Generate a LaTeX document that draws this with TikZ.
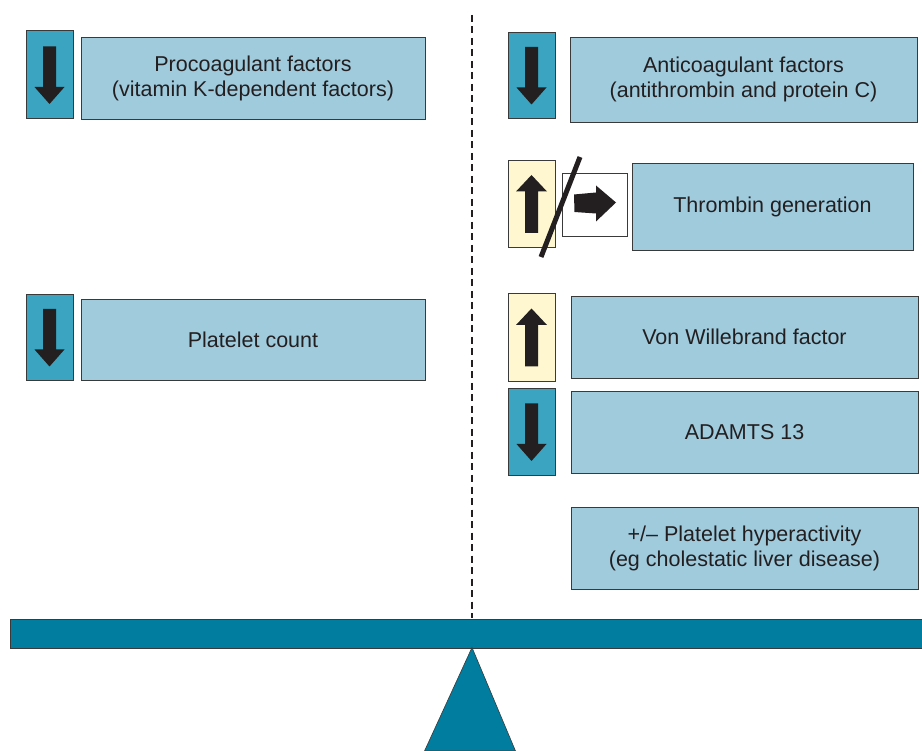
\documentclass[tikz,border=0pt]{standalone}
\usepackage{fontspec}
\setmainfont{Liberation Sans}
\definecolor{tealc}{HTML}{3BA4C1}
\definecolor{lightc}{HTML}{9FCBDD}
\definecolor{yellc}{HTML}{FEF7CF}
\definecolor{barc}{HTML}{007D9F}
\definecolor{txtc}{HTML}{231F20}
\definecolor{bordc}{HTML}{3A3A3A}
\tikzset{
  arrbox/.style={draw=bordc, line width=0.9pt, fill=tealc, minimum width=47pt, minimum height=87pt, inner sep=0pt},
  uparrbox/.style={arrbox, fill=yellc},
  infobox/.style={draw=bordc, line width=0.9pt, fill=lightc, text=txtc, align=center, inner sep=0pt,
    font=\fontsize{21.5}{25}\selectfont},
  arrowshape/.style={fill=txtc, draw=none},
}
\newcommand\DownArr[1]{\fill[txtc,shift={(#1.center)}] (-6.5,-28) -- (6.5,-28) -- (6.5,12.5) -- (15,12.5) -- (0,29.5) -- (-15,12.5) -- (-6.5,12.5) -- cycle;}
\newcommand\UpArr[1]{\fill[txtc,shift={(#1.center)}] (-6.5,29.5) -- (6.5,29.5) -- (6.5,-12) -- (15.5,-12) -- (0,-28.5) -- (-15.5,-12) -- (-6.5,-12) -- cycle;}
\begin{document}
\begin{tikzpicture}[x=1pt,y=-1pt]
\clip (0,0) rectangle (922,751);
\fill[white] (0,0) rectangle (922,751);

% dashed axis
\coordinate (axtop) at (472,15);
\coordinate (axbot) at (472,618);
\draw[txtc, line width=2pt, dash pattern=on 7pt off 4.5pt] (axtop) -- (axbot);

% left column
\node[arrbox, minimum height=88pt] (a1) at (49.5,74.5) {};
\DownArr{a1}
\node[infobox, minimum width=344pt, minimum height=82pt] (proco) at (253,78) {Procoagulant factors\\(vitamin K-dependent factors)};

\node[arrbox, minimum height=86pt] (a2) at (49.5,337) {};
\DownArr{a2}
\node[infobox, minimum width=344pt, minimum height=81pt] (plt) at (253,339.5) {Platelet count};

% right column
\node[arrbox, minimum height=86pt] (a3) at (531.5,75) {};
\DownArr{a3}
\node[infobox, minimum width=347pt, minimum height=85pt] (anti) at (743.5,79.5) {Anticoagulant factors\\(antithrombin and protein C)};

\node[uparrbox] (a4) at (531.5,203.5) {};
\UpArr{a4}
\node[draw=bordc, line width=0.9pt, fill=white, minimum width=65pt, minimum height=63pt, inner sep=0pt] (wbox) at (594.5,204.5) {};
\fill[txtc, shift={(wbox.center)}] (-20.5,-10) -- (1.5,-12) -- (1.5,-19) -- (21.5,-2) -- (1.5,17) -- (1.5,9) -- (-20,7.5) -- cycle;
\coordinate (sl1) at (541,257);
\coordinate (sl2) at (580,157);
\draw[txtc, line width=5pt] (sl1) -- (sl2);
\node[infobox, minimum width=281pt, minimum height=87pt] (thr) at (772.5,206.5) {Thrombin generation};

\node[uparrbox, minimum height=88pt] (a5) at (531.5,337) {};
\UpArr{a5}
\node[infobox, minimum width=347pt, minimum height=82pt] (vwf) at (744.5,337) {Von Willebrand factor};

\node[arrbox, minimum height=87pt] (a6) at (531.5,431.5) {};
\DownArr{a6}
\node[infobox, minimum width=347pt, minimum height=82pt] (adam) at (744.5,432) {ADAMTS 13};

\node[infobox, minimum width=347pt, minimum height=82pt] (hyper) at (744.5,548) {+/-- Platelet hyperactivity\\(eg cholestatic liver disease)};

% balance
\node[draw=bordc, line width=0.9pt, fill=barc, minimum width=920pt, minimum height=29pt, inner sep=0pt, anchor=north west] (bar) at (10,618.5) {};
\coordinate (apex) at (472,647.5);
\coordinate (bl) at (424.5,751);
\coordinate (br) at (515.5,751);
\filldraw[fill=barc, draw=bordc, line width=0.6pt] (apex) -- (br) -- (bl) -- cycle;
\end{tikzpicture}
\end{document}
